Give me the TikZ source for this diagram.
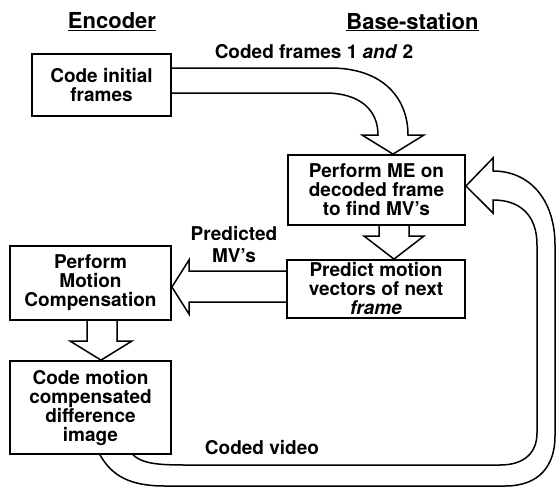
\documentclass[tikz,border=0pt]{standalone}
\usepackage{fontspec}
\setmainfont{TeX Gyre Heros}
\begin{document}
\begin{tikzpicture}[x=1pt,y=-1pt,
  box/.style={draw, line width=1.8pt, inner sep=0pt, align=center,
    font=\bfseries\fontsize{19}{19}\selectfont},
  lbl/.style={inner sep=0pt, align=center,
    font=\bfseries\fontsize{19}{22}\selectfont},
  hdr/.style={inner sep=0pt, font=\bfseries\fontsize{22}{24}\selectfont},
  barrow/.style={draw, line width=1.5pt, line join=miter}]
\useasboundingbox (0,0) rectangle (557,488);

% headers and labels
\node[hdr] (henc) at (112,22) {\underline{Encoder}};
\node[hdr] (hbase) at (412.5,22) {\underline{Base-station}};
\node[lbl] (lcoded) at (314,52) {Coded frames 1 \textit{and} 2};
\node[lbl] (lpred) at (234,245) {Predicted\\MV’s};
\node[lbl] (lvideo) at (262,448) {Coded video};

% boxes
\node[box, minimum width=139pt, minimum height=62pt] (init) at (101.5,85) {Code initial\\frames};
\node[box, minimum width=177pt, minimum height=70pt] (me) at (376.5,190) {Perform ME on\\decoded frame\\to find MV’s};
\node[box, minimum width=161pt, minimum height=74pt] (mc) at (90.5,283) {Perform\\Motion\\Compensation};
\node[box, minimum width=178pt, minimum height=58pt] (pred) at (376,289) {Predict motion\\vectors of next\\\textit{frame}};
\node[box, minimum width=161pt, minimum height=93pt] (cm) at (90.5,407.5) {Code motion\\compensated\\difference\\image};

% block arrow 1: init -> me
\draw[barrow] (init.east |- 0,68) -- (330,68) .. controls (385,68) and (408,100) .. (408,135)
  -- (424,135) -- (me.north -| 393,0) -- (362,135) -- (378,135)
  .. controls (378,110) and (360,93) .. (325,93) -- (init.east |- 0,93);

% block arrow 2: me -> pred
\draw[barrow] (me.south -| 379,0) -- (379,236) -- (364,236) -- (pred.north -| 394,0)
  -- (424,236) -- (409,236) -- (me.south -| 409,0);

% block arrow 3: pred -> mc
\draw[barrow] (pred.west |- 0,271) -- (189,271) -- (189,260) -- (mc.east |- 0,287)
  -- (189,314) -- (189,302) -- (pred.west |- 0,302);

% block arrow 4: mc -> cm
\draw[barrow] (mc.south -| 87,0) -- (87,341) -- (70,341) -- (cm.north -| 101,0)
  -- (132,341) -- (117,341) -- (mc.south -| 117,0);

% block arrow 5: cm -> me (loop)
\draw[barrow] (cm.south -| 100,0) .. controls (112,476) and (130,486) .. (165,486)
  -- (505,486) .. controls (540,486) and (555,465) .. (555,436)
  -- (555,245) .. controls (555,200) and (530,171) .. (493,171)
  -- (493,158) -- (me.east |- 0,186) -- (493,213) -- (493,200)
  .. controls (520,200) and (537,215) .. (537,245)
  -- (537,433) .. controls (537,452) and (525,465) .. (500,465)
  -- (185,465) .. controls (155,465) and (142,463) .. (cm.south -| 133,0);
\end{tikzpicture}
\end{document}
